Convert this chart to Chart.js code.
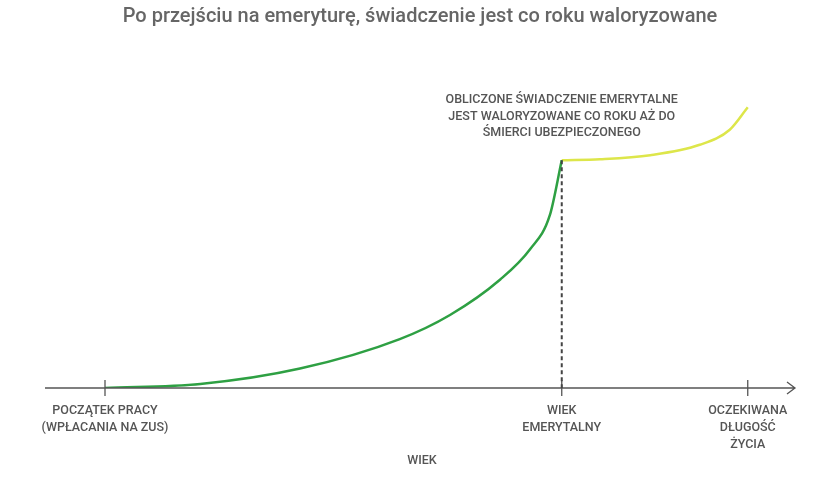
<!DOCTYPE html>
<html>
<head>
<meta charset="utf-8">
<script src="https://cdn.jsdelivr.net/npm/chart.js@4"></script>
<style>
  body { margin: 0; background: #fff; }
  #wrap { width: 840px; height: 480px; }
</style>
</head>
<body>
<div id="wrap"><canvas id="c"></canvas></div>
<script>
const chartTitle = 'Po przejściu na emeryturę, świadczenie jest co roku waloryzowane';
const workX = [8, 20.7, 34, 47.3, 54, 60.7, 64.7, 67.3, 68.9];
const workY = [0, 1.2, 5.8, 14.6, 21.8, 32.4, 41.5, 51.5, 68];
const pensionX = [68.9, 74, 80.7, 87.3, 91.3, 93.7];
const pensionY = [68, 68.3, 69.5, 72.6, 77.1, 83.8];
const tickValues = [8, 68.9, 93.7];
const tickLabels = [
    ['POCZĄTEK PRACY', '(WPŁACANIA NA ZUS)'],
    ['WIEK', 'EMERYTALNY'],
    ['OCZEKIWANA', 'DŁUGOŚĆ', 'ŻYCIA']
];
const axisTitle = 'WIEK';
const noteLines = ['OBLICZONE ŚWIADCZENIE EMERYTALNE', 'JEST WALORYZOWANE CO ROKU AŻ DO', 'ŚMIERCI UBEZPIECZONEGO'];

const toPoints = (xs, ys) => xs.map((x, i) => ({ x: x, y: ys[i] }));

const decor = {
    id: 'decor',
    afterDatasetsDraw(chart) {
        const ctx = chart.ctx;
        const xs = chart.scales.x, ys = chart.scales.y;
        const y0 = ys.getPixelForValue(0);
        ctx.save();
        ctx.strokeStyle = '#555';
        ctx.lineWidth = 1.3;
        ctx.beginPath();
        ctx.moveTo(xs.left, y0);
        ctx.lineTo(xs.right, y0);
        ctx.moveTo(xs.right - 8, y0 - 6);
        ctx.lineTo(xs.right, y0);
        ctx.lineTo(xs.right - 8, y0 + 6);
        ctx.stroke();
        ctx.font = '500 12.5px "Roboto", sans-serif';
        ctx.fillStyle = '#555';
        ctx.textAlign = 'center';
        tickValues.forEach((v, i) => {
            const px = xs.getPixelForValue(v);
            ctx.beginPath();
            ctx.moveTo(px, y0 - 8);
            ctx.lineTo(px, y0 + 8);
            ctx.stroke();
            tickLabels[i].forEach((t, j) => ctx.fillText(t, px, y0 + 26 + j * 17));
        });
        // dashed line at retirement
        const rx = xs.getPixelForValue(workX[workX.length - 1]);
        ctx.setLineDash([4, 3]);
        ctx.strokeStyle = '#444';
        ctx.lineWidth = 2;
        ctx.beginPath();
        ctx.moveTo(rx, ys.getPixelForValue(workY[workY.length - 1]));
        ctx.lineTo(rx, y0);
        ctx.stroke();
        ctx.setLineDash([]);
        ctx.fillText(axisTitle, 422, y0 + 76);
        noteLines.forEach((t, j) => ctx.fillText(t, rx, 103 + j * 16.5));
        ctx.restore();
    }
};

new Chart(document.getElementById('c'), {
    type: 'line',
    data: {
        datasets: [
            { data: toPoints(workX, workY), borderColor: '#2ea043', borderWidth: 2.5, pointRadius: 0, cubicInterpolationMode: 'monotone' },
            { data: toPoints(pensionX, pensionY), borderColor: '#dde64a', borderWidth: 2.5, pointRadius: 0, cubicInterpolationMode: 'monotone' }
        ]
    },
    options: {
        responsive: true,
        maintainAspectRatio: false,
        animation: false,
        layout: { padding: { left: 45, right: 45, top: 0, bottom: 92 } },
        plugins: {
            legend: { display: false },
            tooltip: { enabled: false },
            title: {
                display: true, text: chartTitle, color: '#666',
                font: { family: 'Roboto', size: 20, weight: '500' },
                padding: { top: 5, bottom: 24 }
            }
        },
        scales: {
            x: { type: 'linear', min: 0, max: 100, display: false },
            y: { min: 0, max: 100, display: false }
        }
    },
    plugins: [decor]
});
</script>
</body>
</html>
